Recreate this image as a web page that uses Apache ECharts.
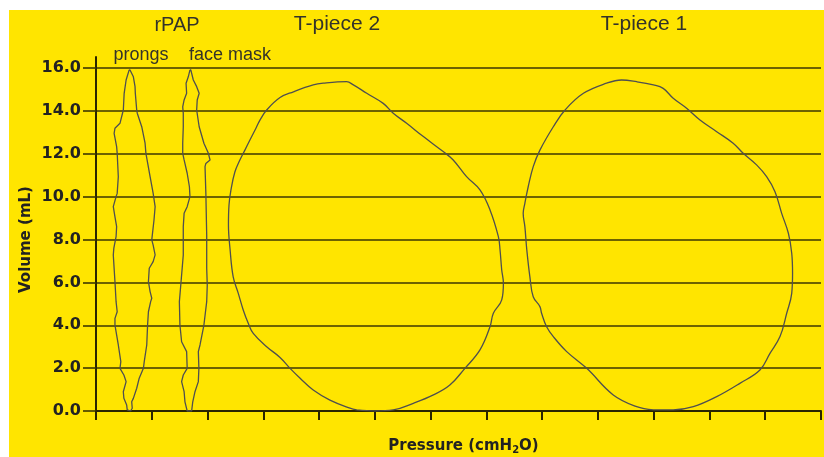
<!DOCTYPE html>
<html>
<head>
<meta charset="utf-8">
<script src="https://cdn.jsdelivr.net/npm/echarts@6/dist/echarts.min.js"></script>
<style>
  html, body { margin: 0; padding: 0; background: #ffffff; }
  #panel { position: absolute; left: 9px; top: 10px; width: 815px; height: 447px; background: #FFE500; }
  #chart { position: absolute; left: 0; top: 0; width: 824px; height: 457px; }
</style>
</head>
<body>
<div id="panel"></div>
<div id="chart"></div>
<script>
// Pressure–volume loops, each given as [pressure (cmH2O), volume (mL)] around the loop.
const prongsLoop = [
  [1.19, 15.91], [1.08, 15.44], [1.01, 14.82], [0.98, 14.04], [0.86, 13.42], [0.68, 13.19],
  [0.65, 12.95], [0.74, 12.33], [0.76, 12.02], [0.80, 10.93], [0.76, 10.15], [0.72, 10.00],
  [0.62, 9.53], [0.68, 9.06], [0.74, 8.60], [0.72, 8.13], [0.64, 7.60], [0.62, 7.28],
  [0.68, 6.03], [0.72, 5.10], [0.76, 4.63], [0.68, 4.32], [0.68, 4.01], [0.80, 3.08],
  [0.89, 2.30], [0.86, 1.99], [1.00, 1.68], [1.08, 1.37], [0.98, 0.90], [1.00, 0.59],
  [1.10, 0.28], [1.12, 0.05],
  [1.24, 0.00], [1.30, 0.13], [1.28, 0.43], [1.34, 0.59], [1.46, 1.06], [1.55, 1.53],
  [1.70, 1.99], [1.73, 2.30], [1.82, 3.08], [1.85, 4.01], [1.88, 4.63], [1.96, 5.10],
  [2.00, 5.26], [1.94, 5.57], [1.88, 6.03], [1.91, 6.66], [2.05, 6.97], [2.12, 7.28],
  [2.05, 7.74], [2.00, 7.98], [2.08, 8.91], [2.12, 9.53], [2.05, 10.15], [1.94, 10.93],
  [1.79, 12.02], [1.76, 12.49], [1.64, 13.26], [1.48, 13.89], [1.46, 14.04], [1.41, 14.82],
  [1.40, 15.13], [1.34, 15.59], [1.22, 15.91], [1.19, 15.91]
];

const faceMaskLoop = [
  [3.37, 15.91], [3.31, 15.59], [3.23, 15.29], [3.25, 14.82], [3.16, 14.51], [3.11, 14.19],
  [3.13, 13.89], [3.13, 13.26], [3.11, 12.49], [3.11, 12.02], [3.16, 11.71], [3.27, 11.09],
  [3.35, 10.46], [3.37, 10.00], [3.27, 9.53], [3.16, 9.22], [3.13, 8.60], [3.13, 7.28],
  [3.05, 6.03], [2.99, 5.10], [3.01, 4.01], [3.07, 3.23], [3.25, 2.77], [3.27, 1.99],
  [3.13, 1.68], [3.07, 1.37], [3.16, 0.90], [3.19, 0.43], [3.27, 0.00],
  [3.43, 0.00], [3.47, 0.43], [3.55, 0.90], [3.67, 1.37], [3.69, 1.99], [3.67, 2.77],
  [3.73, 3.08], [3.87, 4.01], [3.97, 5.10], [3.99, 5.88], [3.97, 6.66], [3.97, 8.21],
  [3.94, 10.15], [3.91, 11.40], [3.94, 11.55], [4.09, 11.71], [4.03, 12.02], [3.87, 12.49],
  [3.70, 13.26], [3.61, 14.04], [3.63, 14.51], [3.70, 14.82], [3.61, 15.13], [3.49, 15.44],
  [3.40, 15.91], [3.37, 15.91]
];

const tPiece2Loop = [
  [9.35, 0.05], [9.11, 0.13], [8.39, 0.51], [7.79, 0.98], [7.32, 1.53], [6.96, 1.99],
  [6.60, 2.50], [6.12, 3.00], [5.64, 3.62], [5.46, 4.09], [5.28, 4.71], [5.10, 5.50],
  [4.92, 6.26], [4.81, 7.51], [4.75, 8.68], [4.77, 9.61], [4.84, 10.31], [4.98, 11.15],
  [5.16, 11.71], [5.34, 12.17], [5.52, 12.64], [5.74, 13.20], [5.88, 13.57], [6.12, 14.04],
  [6.60, 14.62], [7.08, 14.89], [7.79, 15.21], [8.15, 15.29], [8.99, 15.36], [9.23, 15.21],
  [9.71, 14.82], [10.30, 14.35], [10.66, 13.89], [11.14, 13.42], [11.74, 12.80], [12.45, 12.10],
  [12.81, 11.71], [13.29, 10.93], [13.77, 10.31], [14.13, 9.38], [14.43, 8.13], [14.49, 7.51],
  [14.55, 6.58], [14.61, 5.96], [14.55, 5.18], [14.25, 4.56], [14.13, 3.93], [13.77, 2.85],
  [13.23, 1.99], [12.69, 1.21], [12.10, 0.75], [11.38, 0.36], [10.66, 0.05], [10.01, 0.00],
  [9.35, 0.05]
];

const tPiece1Loop = [
  [19.99, 0.05], [19.39, 0.20], [18.55, 0.75], [17.60, 1.99], [16.88, 2.77], [16.40, 3.47],
  [16.16, 3.93], [15.98, 4.56], [15.92, 4.87], [15.68, 5.33], [15.56, 6.26], [15.45, 7.51],
  [15.38, 8.60], [15.32, 9.22], [15.38, 9.69], [15.50, 10.46], [15.68, 11.40], [15.92, 12.17],
  [16.40, 13.26], [16.82, 14.04], [17.48, 14.82], [18.31, 15.29], [18.85, 15.44], [19.39, 15.36],
  [19.99, 15.21], [20.34, 15.05], [20.70, 14.59], [21.18, 14.12], [21.66, 13.57], [22.26, 13.03],
  [22.85, 12.49], [23.21, 12.02], [23.69, 11.48], [24.05, 10.93], [24.35, 10.23], [24.59, 9.22],
  [24.83, 8.29], [24.95, 7.36], [24.98, 6.42], [24.95, 5.49], [24.77, 4.56], [24.53, 3.47],
  [24.17, 2.69], [23.81, 1.91], [23.09, 1.29], [22.26, 0.67], [21.42, 0.20], [20.70, 0.05],
  [19.99, 0.05]
];

// Axis ranges and tick steps
const pressureRange = [0, 26];
const pressureStep = 2;
const volumeRange = [0, 16];
const volumeStep = 2;

// Header texts
const deviceLabels = ['rPAP', 'T-piece 2', 'T-piece 1'];
const interfaceLabels = ['prongs', 'face mask'];

const ink = '#2a2400';
const gridInk = '#3d3600';
const traceColor = '#4f4f4f';

function loopSeries(name, data, smooth) {
  return {
    name: name,
    type: 'line',
    xAxisIndex: 0,
    yAxisIndex: 0,
    data: data,
    showSymbol: false,
    symbol: 'none',
    smooth: smooth,
    lineStyle: { color: traceColor, width: 1.3 },
    z: 5
  };
}

function headerTitle(text, cx, top, size) {
  return {
    text: text,
    left: cx,
    top: top,
    textAlign: 'center',
    padding: 0,
    textStyle: {
      fontFamily: 'Liberation Sans',
      fontWeight: 'normal',
      fontSize: size,
      lineHeight: size,
      color: '#33332a'
    }
  };
}

const chart = echarts.init(document.getElementById('chart'), null, { renderer: 'canvas' });

chart.setOption({
  backgroundColor: 'transparent',
  animation: false,
  title: [
    headerTitle(deviceLabels[0], 177, 15, 20),
    headerTitle(deviceLabels[1], 337, 14, 21),
    headerTitle(deviceLabels[2], 644, 14, 21),
    headerTitle(interfaceLabels[0], 141, 46, 18),
    headerTitle(interfaceLabels[1], 230, 46, 18)
  ],
  grid: [
    { left: 96, right: 3, top: 68, bottom: 46, outerBoundsMode: 'none', containLabel: false },
    { left: 96, right: 3, top: 57, bottom: 46, outerBoundsMode: 'none', containLabel: false }
  ],
  xAxis: [
    {
      type: 'value',
      gridIndex: 0,
      min: pressureRange[0],
      max: pressureRange[1],
      interval: pressureStep,
      name: '{a|Pressure (cmH}{b|2}{a|O)}',
      nameLocation: 'middle',
      nameGap: 27,
      nameMoveOverlap: false,
      nameTextStyle: {
        padding: [0, 0, 0, 10],
        rich: {
          a: { fontFamily: 'DejaVu Sans', fontWeight: 'bold', fontSize: 15, color: '#222' },
          b: { fontFamily: 'DejaVu Sans', fontWeight: 'bold', fontSize: 10, color: '#222', padding: [7, 0, 0, 0] }
        }
      },
      axisLine: { show: true, onZero: false, lineStyle: { color: ink, width: 2 } },
      axisTick: { show: true, inside: false, length: 9, lineStyle: { color: ink, width: 2 } },
      axisLabel: { show: false },
      splitLine: { show: false }
    },
    {
      type: 'value',
      gridIndex: 1,
      min: 0,
      max: 1,
      show: false
    }
  ],
  yAxis: [
    {
      type: 'value',
      gridIndex: 0,
      min: volumeRange[0],
      max: volumeRange[1],
      interval: volumeStep,
      name: 'Volume (mL)',
      nameLocation: 'middle',
      nameGap: 62,
      nameMoveOverlap: false,
      nameTextStyle: { fontFamily: 'DejaVu Sans', fontWeight: 'bold', fontSize: 15, color: '#222' },
      axisLine: { show: true, lineStyle: { color: ink, width: 2 } },
      axisTick: { show: true, inside: false, length: 13, lineStyle: { color: gridInk, width: 1.6 } },
      axisLabel: {
        formatter: function (v) { return v.toFixed(1); },
        fontFamily: 'DejaVu Sans',
        fontWeight: 'bold',
        fontSize: 16,
        color: '#222',
        margin: 15
      },
      splitLine: { show: true, lineStyle: { color: gridInk, width: 1.6 } }
    },
    {
      // lets the vertical axis line run a little above the top grid line
      type: 'value',
      gridIndex: 1,
      min: 0,
      max: 1,
      axisLine: { show: true, lineStyle: { color: ink, width: 2 } },
      axisTick: { show: false },
      axisLabel: { show: false },
      splitLine: { show: false }
    }
  ],
  series: [
    loopSeries('prongs', prongsLoop, false),
    loopSeries('face mask', faceMaskLoop, false),
    loopSeries('T-piece 2', tPiece2Loop, 0.4),
    loopSeries('T-piece 1', tPiece1Loop, 0.4)
  ]
});
</script>
</body>
</html>
